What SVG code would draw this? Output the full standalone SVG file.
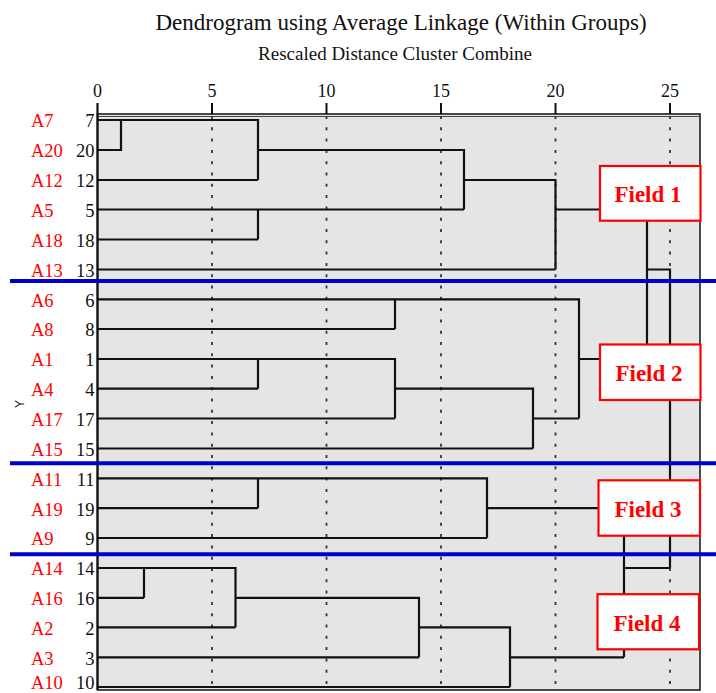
<svg xmlns="http://www.w3.org/2000/svg" width="716" height="693" viewBox="0 0 716 693">
<style>
.ttl{font-family:"Liberation Serif","Times New Roman",serif;fill:#111}
.lab{font-family:"Liberation Serif","Times New Roman",serif;font-size:18.5px;fill:#ff0000}
.num{font-family:"Liberation Serif","Times New Roman",serif;font-size:18.5px;fill:#111;text-anchor:end}
.ax{font-family:"Liberation Serif","Times New Roman",serif;font-size:18px;fill:#111;text-anchor:middle}
.dl{fill:none;stroke:#111;stroke-width:2.2}
.grid{stroke:#333;stroke-width:1.8;stroke-dasharray:3 8.3}
.tick{stroke:#111;stroke-width:2}
.sep{stroke:#0000cc;stroke-width:4}
.box{fill:#fff;stroke:#ff0000;stroke-width:2.2}
.ft{font-family:"Liberation Serif","Times New Roman",serif;font-size:23px;font-weight:bold;fill:#ff0000;text-anchor:middle}
</style>
<rect width="716" height="693" fill="#fff"/>
<text class="ttl" x="401" y="30" font-size="23" text-anchor="middle">Dendrogram using Average Linkage (Within Groups)</text>
<text class="ttl" x="395" y="60" font-size="19" text-anchor="middle">Rescaled Distance Cluster Combine</text>
<g id="axis">
<rect x="97.5" y="114" width="602.5" height="576" fill="#e5e5e5" stroke="#111" stroke-width="1.5"/>
<line x1="97.5" y1="116.5" x2="700" y2="116.5" stroke="#444" stroke-width="1"/>
<line x1="97.5" y1="103" x2="97.5" y2="690" stroke="#111" stroke-width="2.2"/>
<g class="grid">
<line x1="212" y1="116" x2="212" y2="690"/>
<line x1="326.5" y1="116" x2="326.5" y2="690"/>
<line x1="441" y1="116" x2="441" y2="690"/>
<line x1="555.5" y1="116" x2="555.5" y2="690"/>
<line x1="670" y1="116" x2="670" y2="690"/>
</g>
<g class="tick">
<line x1="212" y1="103" x2="212" y2="114"/>
<line x1="326.5" y1="103" x2="326.5" y2="114"/>
<line x1="441" y1="103" x2="441" y2="114"/>
<line x1="555.5" y1="103" x2="555.5" y2="114"/>
<line x1="670" y1="103" x2="670" y2="114"/>
</g>
<text class="ax" x="97.5" y="97">0</text>
<text class="ax" x="212" y="97">5</text>
<text class="ax" x="326.5" y="97">10</text>
<text class="ax" x="441" y="97">15</text>
<text class="ax" x="555.5" y="97">20</text>
<text class="ax" x="670" y="97">25</text>
<text transform="translate(20,404) rotate(-90)" x="0" y="4" font-family="Liberation Sans, Arial, sans-serif" font-size="12" text-anchor="middle" fill="#111">Y</text>
</g>
<g id="connectors" class="dl">
<path d="M97.5,120H258V180M97.5,180H258M97.5,150H121V120M258,150H464V209.5M97.5,209.5H464M258,209.5V239.5M97.5,239.5H258M464,180H555.5V269.5M97.5,269.5H555.5M555.5,209.5H647M647,209.5V359M647,269.5H670V568"/>
<path d="M97.5,299.3H579V418.5M395,299.3V329M97.5,329H395M97.5,359H395V418.5M258,359V388.7M97.5,388.7H258M97.5,418.5H395M395,388.7H533V448.5M97.5,448.5H533M533,418.5H579M579,359H647"/>
<path d="M97.5,478.3H487V538M258,478.3V508.2M97.5,508.2H258M97.5,538H487M487,508.2H624V657.3M624,568H670"/>
<path d="M97.5,568H235.5V627.3M144,568V597.8M97.5,597.8H144M97.5,627.3H235.5M235.5,597.8H419V657.3M97.5,657.3H419M419,627.3H510V687M97.5,687H510M510,657.3H624"/>
</g>
<g id="leaves">
<g id="leaf-A7"><text class="lab" x="31" y="127.3">A7</text><text class="num" x="94.5" y="127.3">7</text></g>
<g id="leaf-A20"><text class="lab" x="31" y="157.3">A20</text><text class="num" x="94.5" y="157.3">20</text></g>
<g id="leaf-A12"><text class="lab" x="31" y="187.3">A12</text><text class="num" x="94.5" y="187.3">12</text></g>
<g id="leaf-A5"><text class="lab" x="31" y="216.8">A5</text><text class="num" x="94.5" y="216.8">5</text></g>
<g id="leaf-A18"><text class="lab" x="31" y="246.8">A18</text><text class="num" x="94.5" y="246.8">18</text></g>
<g id="leaf-A13"><text class="lab" x="31" y="276.8">A13</text><text class="num" x="94.5" y="276.8">13</text></g>
<g id="leaf-A6"><text class="lab" x="31" y="306.6">A6</text><text class="num" x="94.5" y="306.6">6</text></g>
<g id="leaf-A8"><text class="lab" x="31" y="336.3">A8</text><text class="num" x="94.5" y="336.3">8</text></g>
<g id="leaf-A1"><text class="lab" x="31" y="366.3">A1</text><text class="num" x="94.5" y="366.3">1</text></g>
<g id="leaf-A4"><text class="lab" x="31" y="396">A4</text><text class="num" x="94.5" y="396">4</text></g>
<g id="leaf-A17"><text class="lab" x="31" y="425.8">A17</text><text class="num" x="94.5" y="425.8">17</text></g>
<g id="leaf-A15"><text class="lab" x="31" y="455.8">A15</text><text class="num" x="94.5" y="455.8">15</text></g>
<g id="leaf-A11"><text class="lab" x="31" y="485.6">A11</text><text class="num" x="94.5" y="485.6">11</text></g>
<g id="leaf-A19"><text class="lab" x="31" y="515.5">A19</text><text class="num" x="94.5" y="515.5">19</text></g>
<g id="leaf-A9"><text class="lab" x="31" y="545.3">A9</text><text class="num" x="94.5" y="545.3">9</text></g>
<g id="leaf-A14"><text class="lab" x="31" y="575.3">A14</text><text class="num" x="94.5" y="575.3">14</text></g>
<g id="leaf-A16"><text class="lab" x="31" y="605.1">A16</text><text class="num" x="94.5" y="605.1">16</text></g>
<g id="leaf-A2"><text class="lab" x="31" y="634.6">A2</text><text class="num" x="94.5" y="634.6">2</text></g>
<g id="leaf-A3"><text class="lab" x="31" y="664.6">A3</text><text class="num" x="94.5" y="664.6">3</text></g>
<g id="leaf-A10"><text class="lab" x="31" y="688.5">A10</text><text class="num" x="94.5" y="688.5">10</text></g>
</g>
<g id="separators" class="sep">
<line x1="10" y1="281" x2="716" y2="281"/>
<line x1="10" y1="463.3" x2="716" y2="463.3"/>
<line x1="10" y1="554.3" x2="716" y2="554.3"/>
</g>
<g id="field-1"><rect class="box" x="600" y="166" width="100.5" height="54.7"/><text class="ft" x="648" y="202">Field 1</text></g>
<g id="field-2"><rect class="box" x="600" y="344.5" width="100.5" height="55.5"/><text class="ft" x="649" y="381">Field 2</text></g>
<g id="field-3"><rect class="box" x="598.5" y="480.3" width="101.5" height="55.4"/><text class="ft" x="648" y="517">Field 3</text></g>
<g id="field-4"><rect class="box" x="597.5" y="594.2" width="101.5" height="55.1"/><text class="ft" x="647" y="631">Field 4</text></g>
</svg>
